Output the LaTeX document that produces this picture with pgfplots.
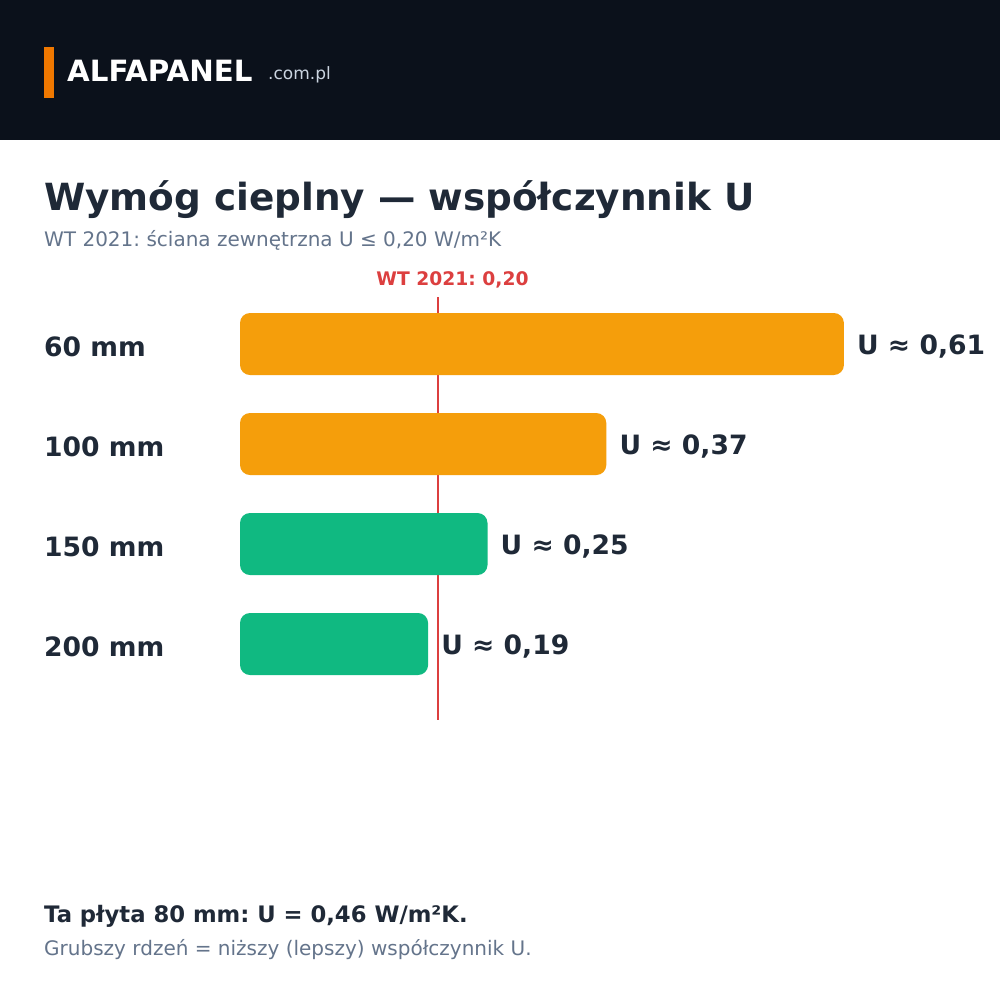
\documentclass[border=0pt]{standalone}
\usepackage{pgfplots}
\pgfplotsset{compat=1.18}
\usepackage{fontspec}
\setmainfont{DejaVu Sans}
\frenchspacing
\definecolor{hdr}{HTML}{0B111B}
\definecolor{accent}{HTML}{F07800}
\definecolor{dark}{HTML}{1F2937}
\definecolor{grey}{HTML}{64748B}
\definecolor{lightgrey}{HTML}{CBD5E1}
\definecolor{refred}{HTML}{DC3F3F}
\definecolor{barorange}{HTML}{F59E0B}
\definecolor{bargreen}{HTML}{10B981}
\begin{document}
\begin{tikzpicture}[x=1pt,y=1pt]
\fill[white] (0,0) rectangle (1000,-1000);
\fill[hdr] (0,0) rectangle (1000,-140);
\fill[accent] (44,-47) rectangle (54,-98);
\node[anchor=base west, inner sep=0, text=white, font=\fontsize{29.3}{32}\selectfont\bfseries] at (67,-82) {ALFAPANEL};
\node[anchor=base west, inner sep=0, text=lightgrey, font=\fontsize{17}{20}\selectfont] at (268,-80) {.com.pl};
\node[anchor=base west, inner sep=0, text=dark, font=\fontsize{37.4}{40}\selectfont\bfseries] at (44,-211) {Wymóg cieplny — współczynnik U};
\node[anchor=base west, inner sep=0, text=grey, font=\fontsize{20}{24}\selectfont] at (44,-246) {WT 2021: ściana zewnętrzna U ≤ 0,20 W/m²K};
\node[anchor=base, inner sep=0, text=refred, font=\fontsize{18.7}{20}\selectfont\bfseries] at (452.5,-285) {WT 2021: 0,20};
\node[anchor=base west, inner sep=0, text=dark, font=\fontsize{22.7}{26}\selectfont\bfseries] at (44,-922) {Ta płyta 80 mm: U = 0,46 W/m²K.};
\node[anchor=base west, inner sep=0, text=grey, font=\fontsize{20}{24}\selectfont] at (44,-955) {Grubszy rdzeń = niższy (lepszy) współczynnik U.};
\begin{axis}[
  at={(240pt,-720pt)}, anchor=south west,
  scale only axis, width=693pt, height=423pt,
  xmin=0, xmax=0.7, ymin=-0.47, ymax=3.76, y dir=reverse,
  axis line style={draw=none}, major tick length=0pt,
  xtick=\empty, ytick={0,1,2,3},
  yticklabels={60 mm,100 mm,150 mm,200 mm},
  yticklabel style={anchor=west, inner sep=0pt, xshift=-196pt, yshift=-2.5pt, text=dark, font=\fontsize{26.6}{30}\selectfont\bfseries},
  clip=false,
  /pgf/number format/.cd, use comma, fixed, fixed zerofill, precision=2, assume math mode=true,
]
\addplot[refred, line width=2.5pt] coordinates {(0.2,-0.47) (0.2,3.76)};
\addplot[xbar, bar width=62pt, bar shift=0pt, fill=barorange, draw=none, rounded corners=10pt,
  point meta=x, nodes near coords={U ≈ \pgfmathprintnumber{\pgfplotspointmeta}},
  every node near coord/.append style={anchor=west, inner sep=0pt, xshift=13pt, yshift=-2.5pt, text=dark, font=\fontsize{26.6}{30}\selectfont\bfseries, rounded corners=0pt}]
  coordinates {(0.61,0) (0.37,1)};
\addplot[xbar, bar width=62pt, bar shift=0pt, fill=bargreen, draw=none, rounded corners=10pt,
  point meta=x, nodes near coords={U ≈ \pgfmathprintnumber{\pgfplotspointmeta}},
  every node near coord/.append style={anchor=west, inner sep=0pt, xshift=13pt, yshift=-2.5pt, text=dark, font=\fontsize{26.6}{30}\selectfont\bfseries, rounded corners=0pt}]
  coordinates {(0.25,2) (0.19,3)};
\end{axis}
\end{tikzpicture}
\end{document}
